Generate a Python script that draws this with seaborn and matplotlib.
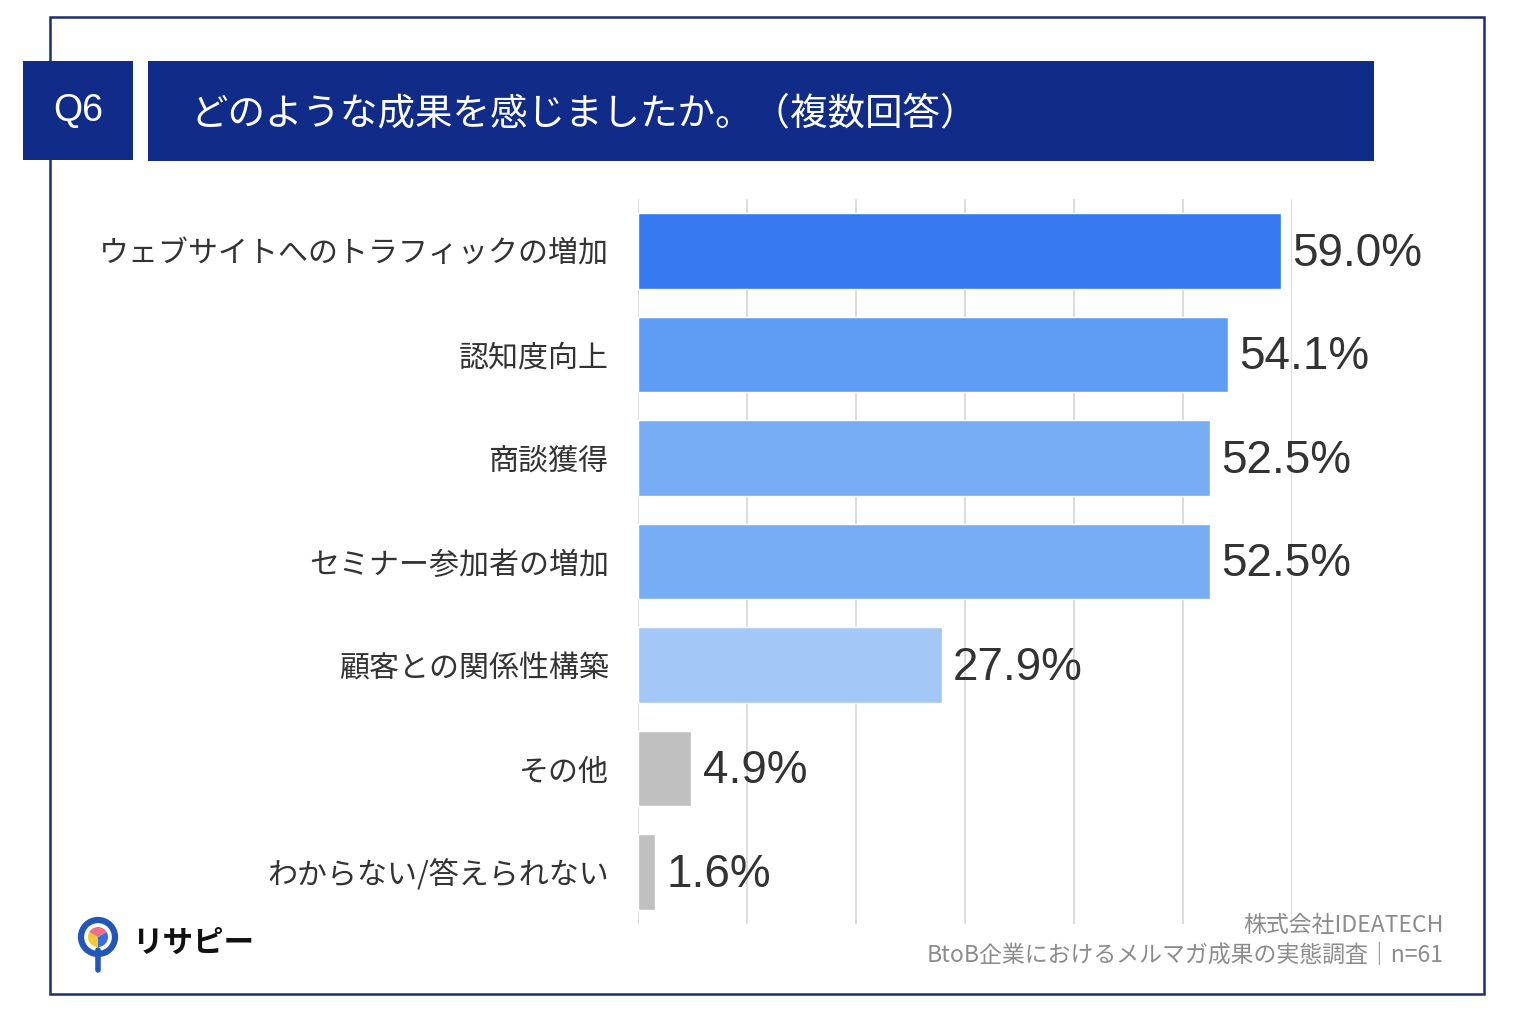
import matplotlib
matplotlib.use("Agg")
import matplotlib.pyplot as plt
from matplotlib.patches import Rectangle, Circle, Wedge
import seaborn as sns
import pandas as pd

# data
categories = ["ウェブサイトへのトラフィックの増加", "認知度向上", "商談獲得", "セミナー参加者の増加",
              "顧客との関係性構築", "その他", "わからない/答えられない"]
values = [59.0, 54.1, 52.5, 52.5, 27.9, 4.9, 1.6]
bar_colors = ["#3578F0", "#5E9DF3", "#76ADF5", "#76ADF5", "#A3C8F7", "#C0C0C0", "#C0C0C0"]
question_no = "Q6"
question = "どのような成果を感じましたか。（複数回答）"
source_lines = ["株式会社IDEATECH", "BtoB企業におけるメルマガ成果の実態調査｜n=61"]
xticks = [0, 10, 20, 30, 40, 50, 60]

jp = ["Noto Sans CJK JP", "DejaVu Sans"]
W, H = 1518, 1016

sns.set_theme(style="white")
plt.rcParams["font.family"] = jp

df = pd.DataFrame({"item": categories, "pct": values})

fig = plt.figure(figsize=(W / 100, H / 100), dpi=100)
fig.patch.set_facecolor("white")

# outer frame + header boxes
fig.patches.append(Rectangle((50 / W, 1 - 994 / H), 1434 / W, 977 / H, transform=fig.transFigure,
                             fill=False, edgecolor="#1B2F6E", lw=1.8, zorder=0))
navy = "#102C88"
fig.patches.append(Rectangle((23 / W, 1 - 160 / H), 110 / W, 99 / H, transform=fig.transFigure,
                             facecolor=navy, edgecolor="none", zorder=2))
fig.patches.append(Rectangle((148 / W, 1 - 161 / H), 1226 / W, 100 / H, transform=fig.transFigure,
                             facecolor=navy, edgecolor="none", zorder=2))
fig.text(78 / W, 1 - 111 / H, question_no, color="white", fontsize=27, family="Liberation Sans",
         ha="center", va="center", zorder=3)
fig.text(190 / W, 1 - 114 / H, question, color="white", fontsize=27, ha="left", va="center", zorder=3)

# main chart
ax = fig.add_axes([638 / W, 1 - 924 / H, 654 / W, 725 / H])
sns.barplot(data=df, x="pct", y="item", hue="item", palette=bar_colors, legend=False,
            width=0.73, saturation=1, ax=ax, zorder=2)
ax.set_xlim(0, 60)
ax.set_ylim(6.5, -0.5)
ax.set_xticks(xticks)
ax.xaxis.grid(True, color="#D9D9D9", lw=1.3, zorder=0)
ax.set_axisbelow(True)
ax.tick_params(axis="x", labelbottom=False, length=0)
ax.tick_params(axis="y", length=0, pad=21, labelsize=21.6, labelcolor="#333333")
for s in ax.spines.values():
    s.set_visible(False)
ax.set_xlabel("")
ax.set_ylabel("")
ax.patch.set_alpha(0)

for i, v in enumerate(values):
    ax.annotate(f"{v:.1f}%", (v, i), xytext=(8, -2), textcoords="offset points",
                ha="left", va="center", fontsize=33, color="#333333",
                family=["Liberation Sans Narrow", "Liberation Sans", "DejaVu Sans"])

# source note
fig.text(1444 / W, 1 - 926 / H, source_lines[0], color="#8C8C8C", fontsize=16.5, ha="right", va="center")
fig.text(1444 / W, 1 - 955 / H, source_lines[1], color="#8C8C8C", fontsize=16.5, ha="right", va="center")

# logo
lax = fig.add_axes([70 / W, 1 - 975 / H, 60 / W, 70 / H])
lax.set_xlim(70, 130)
lax.set_ylim(975, 905)
lax.set_aspect("equal")
lax.axis("off")
blue = "#2456B8"
lax.plot([98, 98], [950, 970], color=blue, lw=4, solid_capstyle="round")
lax.add_patch(Circle((98, 937), 17, facecolor="white", edgecolor=blue, lw=4.5))
lax.add_patch(Wedge((98, 937), 10, 90, 210, facecolor="#F5C933", edgecolor="none"))
lax.add_patch(Wedge((98, 937), 10, 210, 330, facecolor="#EE6F8A", edgecolor="none"))
lax.add_patch(Wedge((98, 937), 10, -30, 90, facecolor="#3A6FD8", edgecolor="none"))
fig.text(132 / W, 1 - 943 / H, "リサピー", color="#111111", fontsize=22, fontweight="bold",
         ha="left", va="center")

fig.savefig("out.png", dpi=100, facecolor="white")
